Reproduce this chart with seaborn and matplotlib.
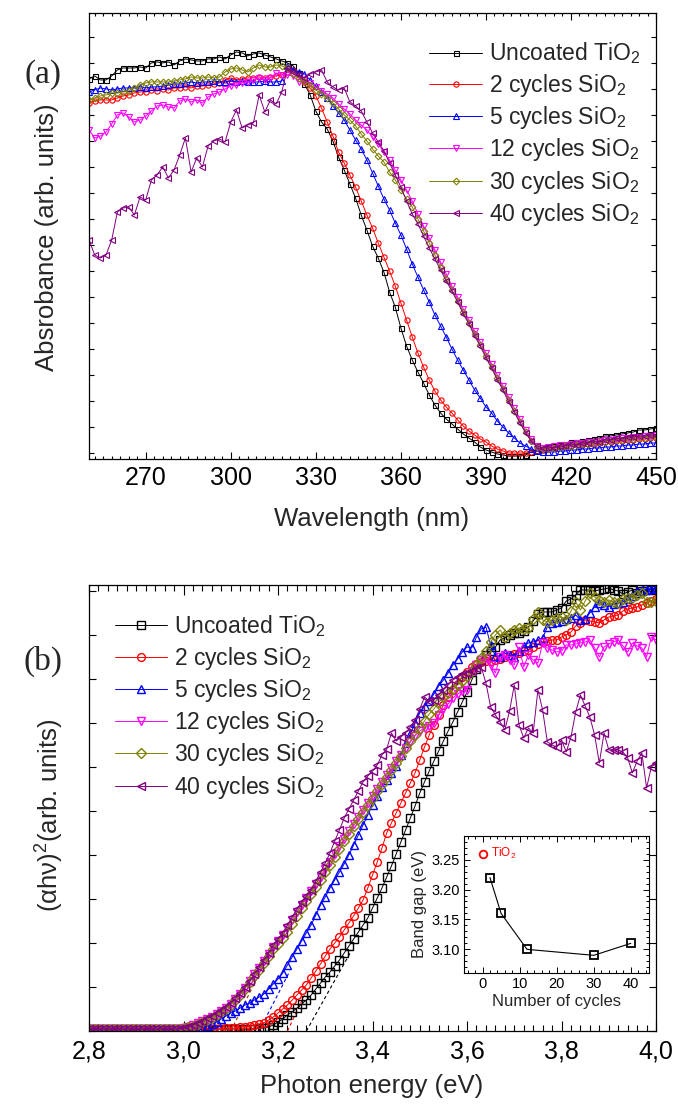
import numpy as np
import matplotlib
matplotlib.use("Agg")
import matplotlib.pyplot as plt
from matplotlib.ticker import MultipleLocator, FuncFormatter
import seaborn as sns

sns.set_theme(style="ticks")
plt.rcParams["font.family"] = ["Liberation Sans", "DejaVu Sans"]
plt.rcParams["mathtext.fontset"] = "custom"
plt.rcParams["mathtext.rm"] = "Liberation Sans"
plt.rcParams["mathtext.it"] = "Liberation Sans:italic"
plt.rcParams["mathtext.bf"] = "Liberation Sans:bold"
plt.rcParams["axes.linewidth"] = 0.9

# ---------------- (a) UV-vis absorbance, arb. units ----------------
wavelength = np.arange(250, 451, 2)

abs_uncoated = [
    374, 377, 373, 373, 377, 383, 385, 385, 385, 386,
    385, 390, 391, 390, 391, 388, 392, 394, 393, 392,
    392, 394, 394, 396, 394, 398, 401, 400, 397, 399,
    400, 398, 396, 394, 392, 390, 387, 380, 369, 358,
    342, 331, 324, 312, 296, 283, 269, 255, 238, 223,
    207, 195, 181, 161, 146, 125, 107, 93, 81, 70,
    58, 48, 40, 34, 29, 24, 19, 15, 11, 6,
    3, 1, -1, -2, -3, -3, -3, -2, 1, 3,
    4, 6, 7, 8, 9, 11, 11, 12, 13, 14,
    15, 17, 17, 18, 19, 20, 21, 23, 23, 24,
    25]
abs_2c = [
    350, 352, 353, 353, 353, 355, 357, 358, 360, 361,
    361, 363, 362, 364, 363, 365, 365, 366, 365, 367,
    367, 368, 369, 370, 373, 375, 373, 374, 375, 375,
    376, 375, 376, 377, 378, 381, 383, 378, 371, 365,
    357, 345, 331, 317, 301, 290, 278, 266, 252, 238,
    225, 210, 196, 182, 167, 150, 133, 116, 100, 86,
    73, 62, 53, 46, 40, 33, 27, 22, 18, 14,
    11, 7, 4, 2, 0, 0, 0, 0, 1, 2,
    3, 4, 5, 6, 7, 7, 8, 8, 9, 9,
    10, 11, 11, 12, 12, 13, 13, 14, 14, 15,
    15]
abs_5c = [
    361, 363, 365, 364, 363, 364, 365, 365, 365, 366,
    365, 366, 366, 367, 368, 369, 369, 370, 371, 370,
    371, 371, 372, 371, 371, 372, 371, 372, 371, 371,
    371, 372, 371, 371, 372, 387, 383, 381, 379, 373,
    367, 361, 355, 347, 340, 333, 323, 313, 304, 293,
    280, 267, 254, 243, 230, 218, 204, 189, 176, 163,
    151, 138, 127, 116, 104, 93, 83, 73, 63, 55,
    46, 40, 32, 26, 20, 15, 10, 7, 4, 2,
    1, 1, 1, 2, 2, 3, 3, 4, 4, 5,
    5, 6, 6, 7, 7, 8, 8, 9, 9, 10,
    10]
abs_12c = [
    323, 315, 317, 321, 329, 338, 340, 336, 331, 333,
    337, 342, 347, 348, 346, 345, 352, 354, 351, 353,
    350, 356, 359, 361, 364, 367, 368, 370, 371, 373,
    375, 373, 375, 380, 378, 378, 377, 371, 373, 370,
    366, 362, 359, 355, 349, 344, 339, 333, 328, 323,
    316, 309, 301, 293, 283, 273, 263, 252, 239, 227,
    215, 203, 191, 179, 167, 156, 144, 133, 122, 111,
    100, 89, 78, 67, 56, 45, 34, 23, 14, 7,
    5, 6, 7, 8, 8, 9, 10, 10, 11, 11,
    12, 13, 13, 14, 15, 15, 16, 16, 17, 17,
    18]
abs_30c = [
    353, 355, 357, 358, 360, 360, 361, 362, 365, 368,
    370, 371, 371, 371, 371, 372, 373, 374, 376, 375,
    375, 376, 375, 376, 381, 384, 385, 383, 381, 385,
    388, 386, 386, 388, 387, 385, 379, 375, 372, 368,
    363, 359, 355, 350, 344, 338, 333, 327, 319, 312,
    304, 297, 291, 281, 273, 263, 254, 246, 234, 222,
    210, 198, 186, 174, 163, 152, 141, 130, 119, 108,
    97, 86, 75, 64, 53, 42, 31, 21, 12, 6,
    4, 4, 5, 6, 7, 7, 8, 9, 9, 10,
    11, 11, 12, 13, 13, 14, 14, 15, 15, 16,
    16]
abs_40c = [
    213, 198, 195, 198, 213, 241, 245, 246, 238, 256,
    253, 273, 278, 286, 275, 283, 298, 315, 281, 295,
    286, 307, 312, 314, 311, 331, 343, 325, 328, 330,
    358, 341, 353, 349, 361, 385, 381, 378, 375, 379,
    381, 383, 371, 366, 363, 365, 351, 347, 342, 331,
    320, 311, 302, 290, 278, 266, 252, 239, 229, 217,
    205, 194, 183, 172, 162, 151, 139, 129, 117, 107,
    95, 85, 73, 63, 51, 41, 30, 20, 12, 7,
    5, 6, 5, 7, 7, 9, 8, 10, 10, 12,
    11, 13, 13, 15, 14, 16, 16, 17, 17, 18,
    18]

# ---------------- (b) Tauc plot, arb. units ----------------
energy = np.round(np.arange(2.80, 4.0001, 0.01), 2)

tauc_uncoated = [
    2, 2, 2, 2, 2, 2, 2, 2, 2, 2,
    2, 2, 2, 2, 2, 2, 2, 2, 2, 2,
    2, 2, 2, 2, 2, 2, 2, 2, 2, 2,
    2, 2, 2, 2, 2, 2, 3, 3, 4, 6,
    9, 12, 16, 19, 23, 27, 31, 36, 42, 48,
    54, 59, 65, 71, 78, 85, 92, 99, 106, 113,
    123, 133, 143, 154, 165, 177, 189, 201, 213, 225,
    238, 249, 260, 270, 280, 290, 300, 309, 319, 329,
    339, 351, 362, 371, 376, 380, 384, 391, 393, 396,
    398, 398, 400, 404, 410, 417, 419, 419, 419, 421,
    423, 430, 432, 436, 441, 441, 441, 440, 441, 442,
    443, 441, 440, 437, 439, 441, 438, 440, 442, 441,
    443]
tauc_2c = [
    2, 2, 2, 2, 2, 2, 2, 2, 2, 2,
    2, 2, 2, 2, 2, 2, 2, 2, 2, 2,
    2, 2, 2, 2, 2, 2, 2, 2, 2, 3,
    3, 3, 4, 4, 5, 6, 7, 8, 11, 14,
    18, 22, 26, 31, 36, 41, 46, 53, 60, 67,
    75, 82, 88, 94, 101, 108, 115, 123, 131, 143,
    156, 169, 183, 198, 208, 218, 228, 238, 248, 258,
    271, 284, 296, 306, 316, 326, 334, 341, 347, 354,
    359, 364, 367, 369, 370, 370, 371, 372, 374, 376,
    377, 378, 380, 381, 384, 387, 389, 390, 391, 391,
    394, 396, 399, 405, 408, 411, 410, 409, 408, 411,
    414, 415, 416, 420, 422, 423, 424, 426, 428, 430,
    432]
tauc_5c = [
    2, 2, 2, 2, 2, 2, 2, 2, 2, 2,
    2, 2, 2, 2, 2, 2, 2, 2, 2, 2,
    2, 2, 2, 3, 4, 5, 7, 9, 12, 15,
    18, 20, 23, 26, 28, 31, 34, 37, 42, 47,
    52, 58, 66, 74, 82, 90, 98, 106, 116, 126,
    134, 143, 151, 159, 167, 176, 186, 196, 206, 216,
    226, 235, 244, 251, 258, 265, 276, 288, 297, 308,
    318, 325, 330, 337, 345, 351, 358, 366, 372, 379,
    384, 383, 394, 402, 404, 386, 375, 374, 378, 376,
    374, 380, 385, 388, 389, 391, 393, 404, 408, 409,
    410, 412, 413, 416, 411, 412, 418, 424, 428, 426,
    424, 427, 428, 429, 432, 435, 440, 441, 441, 442,
    443]
tauc_12c = [
    2, 2, 2, 2, 2, 2, 2, 2, 2, 2,
    2, 2, 2, 2, 2, 2, 2, 2, 2, 2,
    3, 4, 6, 8, 10, 12, 14, 17, 20, 23,
    27, 32, 37, 43, 50, 57, 63, 70, 77, 84,
    90, 96, 103, 111, 119, 126, 133, 140, 147, 154,
    162, 169, 177, 185, 192, 200, 207, 214, 221, 228,
    235, 242, 249, 256, 263, 270, 276, 283, 289, 295,
    300, 303, 305, 308, 316, 322, 327, 333, 337, 340,
    341, 360, 366, 371, 373, 366, 358, 374, 376, 371,
    366, 384, 364, 376, 371, 368, 388, 383, 381, 379,
    380, 386, 386, 387, 388, 389, 391, 383, 374, 384,
    387, 389, 391, 385, 379, 388, 385, 383, 374, 394,
    391]
tauc_30c = [
    2, 2, 2, 2, 2, 2, 2, 2, 2, 2,
    2, 2, 2, 2, 2, 2, 2, 2, 2, 2,
    3, 4, 5, 7, 9, 11, 13, 16, 19, 22,
    26, 31, 36, 42, 49, 55, 61, 68, 75, 82,
    87, 93, 99, 107, 115, 123, 130, 137, 144, 151,
    159, 166, 174, 182, 190, 197, 205, 212, 219, 226,
    233, 240, 247, 254, 261, 268, 275, 283, 290, 296,
    303, 310, 317, 322, 329, 334, 338, 342, 346, 350,
    355, 360, 366, 373, 380, 389, 396, 401, 394, 398,
    401, 403, 402, 403, 412, 419, 411, 409, 411, 413,
    414, 411, 420, 429, 421, 430, 438, 434, 431, 429,
    431, 429, 428, 432, 433, 433, 436, 438, 429, 429,
    430]
tauc_40c = [
    2, 2, 2, 2, 2, 2, 2, 2, 2, 2,
    2, 2, 2, 2, 2, 2, 2, 2, 2, 2,
    3, 4, 6, 8, 10, 13, 15, 18, 21, 24,
    28, 33, 38, 44, 50, 57, 64, 71, 78, 86,
    92, 98, 106, 114, 122, 129, 135, 141, 150, 159,
    168, 178, 190, 201, 213, 222, 231, 240, 249, 255,
    260, 266, 276, 282, 298, 290, 294, 298, 304, 311,
    322, 334, 330, 331, 336, 341, 346, 351, 354, 357,
    358, 360, 363, 364, 348, 324, 316, 309, 301, 320,
    346, 306, 293, 303, 298, 341, 321, 289, 286, 284,
    291, 279, 294, 319, 336, 325, 314, 296, 268, 298,
    281, 281, 281, 279, 273, 258, 270, 278, 243, 264,
    268]

# linear fits extrapolated to the energy axis (start = band gap)
fit_gap = [3.26, 3.22, 3.16, 3.10]
fit_end_e = [3.355, 3.262, 3.225, 3.165]
fit_end_y = [80, 42, 60, 62]
fit_colors = ["#000000", "#ff0000", "#0000ff", "#993300"]

# ---------------- inset: band gap vs. ALD cycles ----------------
cycles = [2, 5, 12, 30, 40]
band_gap = [3.22, 3.16, 3.10, 3.09, 3.11]
tio2_cycles = [0]
tio2_gap = [3.26]

labels = ["Uncoated TiO$_2$", "2 cycles SiO$_2$", "5 cycles SiO$_2$",
          "12 cycles SiO$_2$", "30 cycles SiO$_2$", "40 cycles SiO$_2$"]
colors = ["#000000", "#ff0000", "#0000ff", "#ff00ff", "#808000", "#800080"]
markers = ["s", "o", "^", "v", "D", "<"]
size_a = [3.6, 3.8, 4.2, 4.2, 3.4, 4.2]
size_b = [5.2, 5.6, 6.2, 6.2, 5.0, 6.2]

abs_series = [abs_uncoated, abs_2c, abs_5c, abs_12c, abs_30c, abs_40c]
tauc_series = [tauc_uncoated, tauc_2c, tauc_5c, tauc_12c, tauc_30c, tauc_40c]

fig = plt.figure(figsize=(6.78, 11.06), dpi=100)
ax_a = fig.add_axes([0.1313, 0.585, 0.8363, 0.4033])
ax_b = fig.add_axes([0.1313, 0.0678, 0.8363, 0.4033])
ax_in = fig.add_axes([0.6844, 0.12, 0.2733, 0.1244])

for vals, lab, c, m, ms in zip(abs_series, labels, colors, markers, size_a):
    sns.lineplot(x=wavelength, y=vals, ax=ax_a, color=c, marker=m,
                 markersize=ms, markerfacecolor="none", markeredgecolor=c,
                 markeredgewidth=0.8, linewidth=0.7, label=lab,
                 errorbar=None, sort=False)

for vals, lab, c, m, ms in zip(tauc_series, labels, colors, markers, size_b):
    sns.lineplot(x=energy, y=vals, ax=ax_b, color=c, marker=m,
                 markersize=ms, markerfacecolor="none", markeredgecolor=c,
                 markeredgewidth=1.0, linewidth=0.7, label=lab,
                 errorbar=None, sort=False)

for g, e1, y1, c in zip(fit_gap, fit_end_e, fit_end_y, fit_colors):
    ax_b.plot([g, e1], [0, y1], color=c, lw=0.8, ls=(0, (3, 2.5)), zorder=1)

# axes (a)
ax_a.set_xlim(250, 450)
ax_a.set_ylim(-6, 440)
ax_a.xaxis.set_minor_locator(MultipleLocator(3))
ax_a.set_xticks(np.arange(270, 451, 30))
ax_a.yaxis.set_major_locator(MultipleLocator(26))
ax_a.tick_params(axis="both", which="both", direction="in", top=True,
                 right=True, width=0.8, colors="black")
ax_a.tick_params(axis="x", which="major", length=5, labelsize=18, pad=5)
ax_a.tick_params(axis="x", which="minor", length=2.5)
ax_a.tick_params(axis="y", which="major", length=3.6, labelleft=False)
ax_a.set_xlabel("")
ax_a.set_ylabel("")

# axes (b)
ax_b.set_xlim(2.8, 4.0)
ax_b.set_ylim(0, 446)
ax_b.xaxis.set_major_locator(MultipleLocator(0.2))
ax_b.xaxis.set_minor_locator(MultipleLocator(0.02))
ax_b.xaxis.set_major_formatter(FuncFormatter(lambda v, p: f"{v:.1f}".replace(".", ",")))
ax_b.yaxis.set_major_locator(MultipleLocator(44))
ax_b.tick_params(axis="both", which="both", direction="in", top=True,
                 right=True, width=0.8, colors="black")
ax_b.tick_params(axis="x", which="major", length=7.5, labelsize=18, pad=6)
ax_b.tick_params(axis="x", which="minor", length=4.3)
ax_b.tick_params(axis="y", which="major", length=5, labelleft=False)
ax_b.set_xlabel("")
ax_b.set_ylabel("")

for ax in (ax_a, ax_b):
    for s in ax.spines.values():
        s.set_color("black")
        s.set_linewidth(0.9)

leg_a = ax_a.legend(loc="upper right", bbox_to_anchor=(0.972, 0.938),
                    frameon=False, fontsize=16.5, handlelength=2.3,
                    handletextpad=0.3, labelspacing=0.23, borderpad=0,
                    borderaxespad=0)
leg_b = ax_b.legend(loc="upper left", bbox_to_anchor=(0.045, 0.936),
                    frameon=False, fontsize=16.5, handlelength=2.3,
                    handletextpad=0.3, labelspacing=0.23, borderpad=0,
                    borderaxespad=0)

# inset
ax_in.plot(cycles, band_gap, color="black", lw=0.8, marker="s", ms=5.5,
           mfc="none", mec="black", mew=1.3)
ax_in.plot(tio2_cycles, tio2_gap, ls="none", marker="o", ms=5.5, mfc="none",
           mec="#ff0000", mew=1.3)
ax_in.text(tio2_cycles[0] + 2.2, tio2_gap[0], "TiO$_2$", color="#ff0000",
           fontsize=8.5, va="center", ha="left")
ax_in.set_xlim(-5, 45)
ax_in.set_ylim(3.06, 3.29)
ax_in.xaxis.set_major_locator(MultipleLocator(10))
ax_in.xaxis.set_minor_locator(MultipleLocator(2))
ax_in.yaxis.set_major_locator(MultipleLocator(0.05))
ax_in.yaxis.set_minor_locator(MultipleLocator(0.01))
ax_in.yaxis.set_major_formatter(FuncFormatter(lambda v, p: f"{v:.2f}"))
ax_in.tick_params(axis="both", which="both", direction="in", top=True,
                  right=True, width=0.7, colors="black", labelsize=10.5, pad=3)
ax_in.tick_params(which="major", length=4)
ax_in.tick_params(which="minor", length=2)
ax_in.set_xlabel("Number of cycles", fontsize=12, labelpad=2)
ax_in.set_ylabel("Band gap (eV)", fontsize=12, labelpad=3)
for s in ax_in.spines.values():
    s.set_color("black")
    s.set_linewidth(0.8)
ax_in.set_facecolor("white")

# labels
fig.text(43 / 678, 1 - 75 / 1106, "(a)", fontsize=24, family="Liberation Serif",
         ha="center", va="center")
fig.text(43 / 678, 1 - 661 / 1106, "(b)", fontsize=24, family="Liberation Serif",
         ha="center", va="center")
fig.text(47 / 678, 1 - 237 / 1106, "Absrobance (arb. units)", fontsize=18.5,
         rotation=90, ha="center", va="center")
fig.text(372 / 678, 1 - 519 / 1106, "Wavelength (nm)", fontsize=18.5,
         ha="center", va="center")
fig.text(50 / 678, 1 - 815 / 1106, "(αhν)$^2$(arb. units)",
         fontsize=18.5, rotation=90, ha="center", va="center")
fig.text(372 / 678, 1 - 1086 / 1106, "Photon energy (eV)", fontsize=18.5,
         ha="center", va="center")

fig.savefig("out.png", dpi=100, facecolor="white")
